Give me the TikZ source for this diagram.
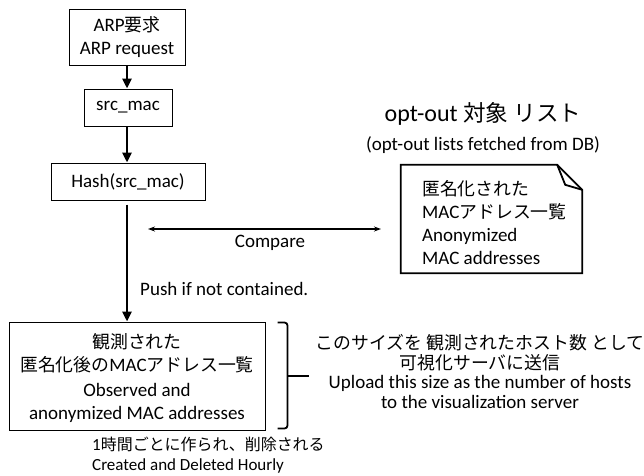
\documentclass[tikz,border=0pt]{standalone}
\usepackage{fontspec}
\setmainfont{Carlito}
\newfontfamily\jpfont{Noto Sans CJK JP}[Scale=0.94]
\newcommand{\jtxt}[1]{{\jpfont #1}}
\newcommand{\fixlines}{\lineskiplimit -50pt\relax}
\usetikzlibrary{arrows.meta, positioning, calc}

\begin{document}
\begin{tikzpicture}[
        x=1pt, y=-1pt,
        every node/.style={font={\fontsize{19}{23}\selectfont\fixlines}},
        block/.style={rectangle, draw, line width=1pt, inner sep=0pt,
                      align=center},
        flow/.style={-{Triangle[length=10pt, width=9pt]}, line width=2.6pt},
        cmp/.style={{Stealth[length=7pt, width=5pt]}-{Stealth[length=7pt, width=5pt]}, line width=1.2pt},
        brace/.style={line width=1.8pt, rounded corners=3pt},
    ]
        \useasboundingbox (0,0) rectangle (644,475);

        \node[block, minimum width=116pt, minimum height=56pt] (arp) at (127,37) {ARP\jtxt{要求}\\ARP request};
        \node[block, minimum width=88pt, minimum height=37pt] (src) at (128,107.5) {src\_mac};
        \node[block, minimum width=154pt, minimum height=37pt] (hash) at (128,181.5) {Hash(src\_mac)};
        \node[block, minimum width=256pt, minimum height=108pt, text depth=-3pt] (obs) at (137,376)
            {\jtxt{観測された}\\\jtxt{匿名化後の}MAC\jtxt{アドレス一覧}\\[2pt]Observed and\\anonymized MAC addresses};

        \draw[flow] (arp.south -| 127,0) -- (src.north -| 127,0);
        \draw[flow] (src.south -| 127,0) -- (hash.north -| 127,0);
        \draw[flow, shorten <=4pt] (hash.south -| 127,0) -- (obs.north -| 127,0);

        \node[font={\fontsize{24}{28}\selectfont}] (title) at (483,114) {opt-out \jtxt{対象} \jtxt{リスト}};
        \node (sub) at (483,145) {(opt-out lists fetched from DB)};

        \node[minimum width=181pt, minimum height=108pt, inner sep=0pt] (note) at (491.5,219) {};
        \node[anchor=west, align=left, inner sep=0pt] (notetxt) at (422,222.5)
            {\jtxt{匿名化された}\\MAC\jtxt{アドレス一覧}\\Anonymized\\MAC addresses};
        \draw[line width=1.8pt, line join=miter]
            (note.north west) -- ([xshift=-25pt]note.north east)
            -- ([yshift=-25pt]note.north east) -- (note.south east)
            -- (note.south west) -- cycle;
        \draw[line width=1.8pt, line join=miter]
            ([xshift=-25pt]note.north east) -- ([xshift=-17pt, yshift=-20pt]note.north east)
            -- ([yshift=-25pt]note.north east);

        \coordinate (cmpl) at (148,229);
        \coordinate (cmpr) at (381,229);
        \draw[cmp] (cmpl) -- (cmpr);
        \node (cmplabel) at (270,243) {Compare};
        \node[anchor=west, inner sep=0pt] (push) at (140,289) {Push if not contained.};

        \draw[brace] ([xshift=12pt, yshift=-1pt]obs.north east) -- ([xshift=22pt, yshift=-1pt]obs.north east)
            -- ([xshift=22pt, yshift=2pt]obs.south east) -- ([xshift=12pt, yshift=2pt]obs.south east);
        \draw[line width=1.8pt] ([xshift=22pt]obs.east) -- ([xshift=43pt]obs.east);

        \node[align=center, font={\fontsize{19}{19.5}\selectfont\fixlines}] (upload) at (480,371.5)
            {\jtxt{このサイズを} \jtxt{観測されたホスト数} \jtxt{として}\\\jtxt{可視化サーバに送信}\hspace*{34pt}\\Upload this size as the number of hosts\\to the visualization server};

        \node[anchor=west, align=left, inner sep=0pt, font={\fontsize{17}{20}\selectfont\fixlines}] (hourly) at (92,455)
            {1\jtxt{時間ごとに作られ、削除される}\\Created and Deleted Hourly};

    \end{tikzpicture}
\end{document}
